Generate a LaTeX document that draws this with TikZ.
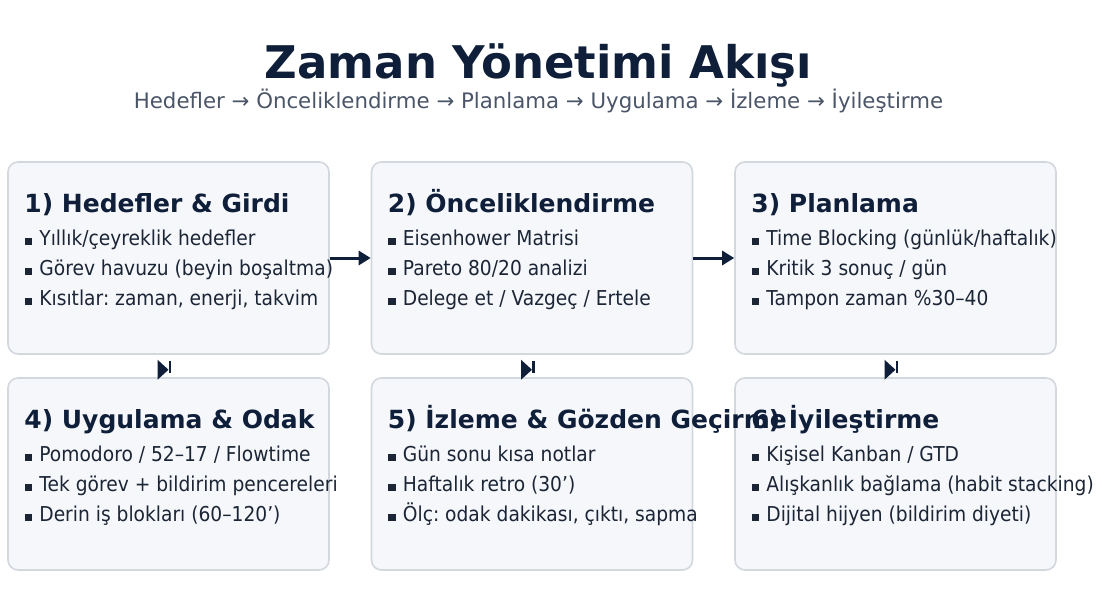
\documentclass[tikz,border=0pt]{standalone}
\usepackage{fontspec}
\setmainfont{DejaVu Sans}
\newfontfamily\bodyfont{DejaVu Sans}[FakeStretch=0.91]
\frenchspacing
\usepackage{xcolor}
\usetikzlibrary{arrows.meta,positioning,calc}
\definecolor{navy}{HTML}{0F1F3A}
\definecolor{ink}{HTML}{1B2535}
\definecolor{subgray}{HTML}{4A5568}
\definecolor{cardfill}{HTML}{F5F7FA}
\definecolor{cardline}{HTML}{D3D8DF}
\newcommand{\itm}{\hspace{0.5pt}\rule{7.5pt}{7.5pt}\hspace{7pt}}
\tikzset{
  card/.style={rounded corners=10pt, draw=cardline, fill=cardfill, line width=1.6pt, minimum width=321pt, minimum height=192pt, inner sep=0pt},
  head/.style={anchor=base west, inner sep=0pt, text=navy, font=\fontsize{25}{30}\selectfont\bfseries},
  item/.style={anchor=base west, inner sep=0pt, text=ink, font=\bodyfont\fontsize{20.5}{24}\selectfont},
  flow/.style={draw=navy, line width=3pt, -{Triangle[length=12pt,width=14pt]}},
  tip/.style={fill=navy}
}

\begin{document}
\begin{tikzpicture}[x=1pt,y=-1pt]
    \useasboundingbox (0,0) rectangle (1112,615);
    \node[anchor=base, inner sep=0pt, text=navy, font=\fontsize{45}{50}\selectfont\bfseries] (title) at (538.5,79) {Zaman Yönetimi Akışı};
    \node[anchor=base, inner sep=0pt, text=subgray, font=\fontsize{21.3}{25}\selectfont] (sub) at (538.5,109) {Hedefler → Önceliklendirme → Planlama → Uygulama → İzleme → İyileştirme};
    % cards
    \node[card] (b1) at (168.5,258) {};
    \node[card] (b2) at (532,258) {};
    \node[card] (b3) at (895.5,258) {};
    \node[card] (b4) at (168.5,474) {};
    \node[card] (b5) at (532,474) {};
    \node[card] (b6) at (895.5,474) {};
    % card texts
    \node[head] (h1) at ([shift={(17,51)}]b1.north west) {1) Hedefler \& Girdi};
    \node[item] (i11) at ([shift={(17,84)}]b1.north west) {\itm Yıllık/çeyreklik hedefler};
    \node[item] (i12) at ([shift={(17,114)}]b1.north west) {\itm Görev havuzu (beyin boşaltma)};
    \node[item] (i13) at ([shift={(17,144)}]b1.north west) {\itm Kısıtlar: zaman, enerji, takvim};
    \node[head] (h2) at ([shift={(17,51)}]b2.north west) {2) Önceliklendirme};
    \node[item] (i21) at ([shift={(17,84)}]b2.north west) {\itm Eisenhower Matrisi};
    \node[item] (i22) at ([shift={(17,114)}]b2.north west) {\itm Pareto 80/20 analizi};
    \node[item] (i23) at ([shift={(17,144)}]b2.north west) {\itm Delege et / Vazgeç / Ertele};
    \node[head] (h3) at ([shift={(17,51)}]b3.north west) {3) Planlama};
    \node[item] (i31) at ([shift={(17,84)}]b3.north west) {\itm Time Blocking (günlük/haftalık)};
    \node[item] (i32) at ([shift={(17,114)}]b3.north west) {\itm Kritik 3 sonuç / gün};
    \node[item] (i33) at ([shift={(17,144)}]b3.north west) {\itm Tampon zaman \%30–40};
    \node[head] (h4) at ([shift={(17,51)}]b4.north west) {4) Uygulama \& Odak};
    \node[item] (i41) at ([shift={(17,84)}]b4.north west) {\itm Pomodoro / 52–17 / Flowtime};
    \node[item] (i42) at ([shift={(17,114)}]b4.north west) {\itm Tek görev + bildirim pencereleri};
    \node[item] (i43) at ([shift={(17,144)}]b4.north west) {\itm Derin iş blokları (60–120’)};
    \node[head] (h5) at ([shift={(17,51)}]b5.north west) {5) İzleme \& Gözden Geçirme};
    \node[item] (i51) at ([shift={(17,84)}]b5.north west) {\itm Gün sonu kısa notlar};
    \node[item] (i52) at ([shift={(17,114)}]b5.north west) {\itm Haftalık retro (30’)};
    \node[item] (i53) at ([shift={(17,144)}]b5.north west) {\itm Ölç: odak dakikası, çıktı, sapma};
    \node[head] (h6) at ([shift={(17,51)}]b6.north west) {6) İyileştirme};
    \node[item] (i61) at ([shift={(17,84)}]b6.north west) {\itm Kişisel Kanban / GTD};
    \node[item] (i62) at ([shift={(17,114)}]b6.north west) {\itm Alışkanlık bağlama (habit stacking)};
    \node[item] (i63) at ([shift={(17,144)}]b6.north west) {\itm Dijital hijyen (bildirim diyeti)};
    % connectors
    \draw[flow] (b1) -- (b2);
    \draw[flow] (b2) -- (b3);
    \path (b1.south) -- (b4.north) coordinate[pos=.667] (d14);
    \path (b2.south) -- (b5.north) coordinate[pos=.667] (d25);
    \path (b3.south) -- (b6.north) coordinate[pos=.667] (d36);
    \fill[tip] (d14) -- ++(-11,-10) -- ++(0,20) -- cycle;
    \fill[tip] (d25) -- ++(-11,-10) -- ++(0,20) -- cycle;
    \fill[tip] (d36) -- ++(-11,-10) -- ++(0,20) -- cycle;
    \draw[navy, line width=2.5pt] ([xshift=1.5pt]d14) ++(0,-9) -- ++(0,12);
    \draw[navy, line width=2.5pt] ([xshift=1.5pt]d25) ++(0,-9) -- ++(0,12);
    \draw[navy, line width=2.5pt] ([xshift=1.5pt]d36) ++(0,-9) -- ++(0,12);
\end{tikzpicture}
\end{document}
